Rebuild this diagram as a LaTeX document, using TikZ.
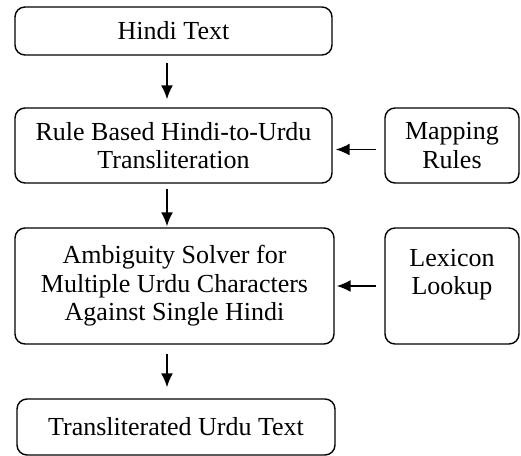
\documentclass[tikz,border=0pt]{standalone}
\usepackage{fontspec}
\setmainfont{Liberation Serif}
\usetikzlibrary{arrows.meta}

\tikzset{
  box/.style={draw, rounded corners=5pt, line width=0.7pt, align=center, inner sep=0pt,
    font=\fontsize{13}{14.3}\selectfont},
  link/.style={-{Latex[length=7pt,width=6pt]}, line width=0.8pt},
}

\begin{document}
\begin{tikzpicture}[x=0.5pt,y=-0.5pt]
\useasboundingbox (0,0) rectangle (521,456);

% Boxes
\node[box, minimum width=158.5pt, minimum height=24pt] (hindi) at (173.5,31) {Hindi Text};
\node[box, minimum width=158.5pt, minimum height=37.5pt] (rule) at (173.5,145.5) {Rule Based Hindi-to-Urdu\\Transliteration};
\node[box, minimum width=67pt, minimum height=37.5pt] (mapping) at (452,145.5) {Mapping\\Rules};
\node[box, minimum width=159.5pt, minimum height=58pt] (ambig) at (174.5,286) {Ambiguity Solver for\\Multiple Urdu Characters\\Against Single Hindi};
\node[box, minimum width=67pt, minimum height=58pt] (lexicon) at (452,286) {Lexicon\\Lookup\\\mbox{}};
\node[box, minimum width=159pt, minimum height=28pt] (trans) at (176,427) {Transliterated Urdu Text};

% Arrows
\draw[link, shorten <=3.5pt, shorten >=4pt] ([xshift=-3.25pt]hindi.south) -- ([xshift=-3.25pt]rule.north);
\draw[link, shorten <=2.5pt, shorten >=0.5pt] ([xshift=-3.25pt]rule.south) -- ([xshift=-3.25pt]rule.south |- ambig.north);
\draw[link, shorten <=4.5pt, shorten >=5.5pt] ([xshift=-3.75pt]ambig.south) -- ([xshift=-3.75pt]ambig.south |- trans.north);
\draw[link, shorten <=4pt, shorten >=1.5pt] ([yshift=-2pt]mapping.west) -- ([yshift=-2pt]rule.east);
\draw[link, shorten <=4pt, shorten >=1pt] (lexicon.west) -- (ambig.east);

\end{tikzpicture}
\end{document}
